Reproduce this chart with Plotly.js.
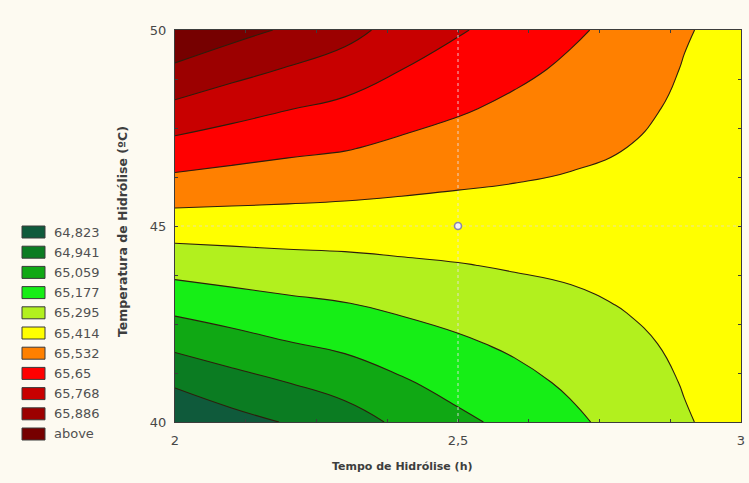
<!DOCTYPE html>
<html>
<head>
<meta charset="utf-8">
<script src="https://cdn.plot.ly/plotly-3.0.1.min.js"></script>
<style>
  html, body { margin: 0; padding: 0; background: #fdfaf1; }
  #grafico { width: 749px; height: 483px; }
</style>
</head>
<body>
<div id="grafico"></div>
<script>
// Tempo de hidrólise (h) — eixo x
const tempo = [2.0, 2.1, 2.2, 2.3, 2.4, 2.5, 2.6, 2.7, 2.8, 2.9, 3.0];
// Temperatura de hidrólise (ºC) — eixo y
const temperatura = [40, 41, 42, 43, 44, 45, 46, 47, 48, 49, 50];

// Resposta estimada; uma linha por temperatura, uma coluna por tempo
const resposta = [
  [64.711, 64.782, 64.831, 64.887, 64.965, 65.035, 65.089, 65.155, 65.220, 65.287, 65.335],
  [64.840, 64.896, 64.941, 64.987, 65.046, 65.098, 65.143, 65.195, 65.247, 65.301, 65.339],
  [64.971, 65.014, 65.054, 65.084, 65.123, 65.160, 65.197, 65.235, 65.275, 65.314, 65.343],
  [65.097, 65.128, 65.153, 65.172, 65.200, 65.225, 65.252, 65.275, 65.302, 65.328, 65.347],
  [65.224, 65.240, 65.254, 65.264, 65.279, 65.291, 65.305, 65.316, 65.330, 65.341, 65.351],
  [65.352, 65.354, 65.356, 65.355, 65.355, 65.355, 65.357, 65.357, 65.357, 65.355, 65.355],
  [65.486, 65.471, 65.458, 65.447, 65.432, 65.419, 65.409, 65.398, 65.385, 65.368, 65.359],
  [65.611, 65.582, 65.558, 65.540, 65.509, 65.483, 65.458, 65.437, 65.413, 65.381, 65.363],
  [65.740, 65.693, 65.654, 65.623, 65.581, 65.545, 65.508, 65.474, 65.440, 65.395, 65.367],
  [65.866, 65.809, 65.760, 65.714, 65.651, 65.603, 65.558, 65.512, 65.468, 65.408, 65.371],
  [65.990, 65.926, 65.871, 65.808, 65.723, 65.660, 65.608, 65.549, 65.496, 65.422, 65.375]
];

// Níveis das curvas de contorno e rótulos da legenda
const niveis = [64.823, 64.941, 65.059, 65.177, 65.295, 65.414, 65.532, 65.65, 65.768, 65.886];
const rotulosLegenda = ['64,823', '64,941', '65,059', '65,177', '65,295', '65,414',
                        '65,532', '65,65', '65,768', '65,886', 'above'];
// Cor de cada faixa, da mais baixa à mais alta
const coresFaixas = ['#0f5a3b', '#0b7c22', '#10a814', '#16ee16', '#b2f01e', '#ffff00',
                     '#ff8000', '#ff0000', '#c80000', '#9c0000', '#760000'];

// Ponto central do planejamento
const pontoX = [2.5];
const pontoY = [45];

const ticksTempo = [2, 2.5, 3];
const ticksTemperatura = [40, 45, 50];

// ---- geometria da figura (pixels) ----
const W = 749, H = 483;
const M = { l: 175, r: 8, t: 30, b: 61 };
const plotW = W - M.l - M.r, plotH = H - M.t - M.b;
const px2paperX = px => (px - M.l) / plotW;
const py2paperY = py => (H - M.b - py) / plotH;

const xRange = [ticksTempo[0], ticksTempo[ticksTempo.length - 1]];
const yRange = [ticksTemperatura[0], ticksTemperatura[ticksTemperatura.length - 1]];

const passo = (niveis[niveis.length - 1] - niveis[0]) / (niveis.length - 1);

const contorno = {
  type: 'contour',
  x: tempo,
  y: temperatura,
  z: resposta,
  autocontour: false,
  contours: {
    start: niveis[0],
    end: niveis[niveis.length - 1],
    size: passo,
    coloring: 'fill',
    showlines: true
  },
  colorscale: coresFaixas.map((c, i) => [i / (coresFaixas.length - 1), c]),
  showscale: false,
  line: { color: '#2e1e0c', width: 1.1, smoothing: 1.3 },
  hoverinfo: 'skip'
};

// Linhas pontilhadas que cruzam o ponto central
const guiaV = {
  type: 'scatter', mode: 'lines',
  x: [pontoX[0], pontoX[0]], y: yRange,
  line: { color: 'rgba(235,225,235,0.85)', width: 1, dash: 'dot' },
  hoverinfo: 'skip', showlegend: false
};
const guiaH = {
  type: 'scatter', mode: 'lines',
  x: xRange, y: [pontoY[0], pontoY[0]],
  line: { color: 'rgba(225,215,225,0.7)', width: 1, dash: 'dot' },
  hoverinfo: 'skip', showlegend: false
};
const ponto = {
  type: 'scatter', mode: 'markers',
  x: pontoX, y: pontoY,
  marker: { size: 7, color: '#f4f2f8', line: { color: '#8a86a8', width: 1.6 } },
  hoverinfo: 'skip', showlegend: false
};

// Legenda manual: caixas coloridas e rótulos dos níveis
const shapes = [];
const annotations = [];
const leg = { x0: 22, x1: 45, yTop: 232, dy: 20.2, h: 12, txtX: 52 };
coresFaixas.forEach((cor, i) => {
  const cy = leg.yTop + i * leg.dy;
  shapes.push({
    type: 'rect', xref: 'paper', yref: 'paper',
    x0: px2paperX(leg.x0), x1: px2paperX(leg.x1),
    y0: py2paperY(cy + leg.h / 2), y1: py2paperY(cy - leg.h / 2),
    fillcolor: cor, line: { color: '#3a3a3a', width: 1 }
  });
  annotations.push({
    xref: 'paper', yref: 'paper',
    x: px2paperX(leg.txtX), y: py2paperY(cy),
    xanchor: 'left', yanchor: 'middle', showarrow: false,
    text: rotulosLegenda[i],
    font: { family: 'DejaVu Sans', size: 13, color: '#505050' }
  });
});

annotations.push({
  xref: 'paper', yref: 'paper',
  x: px2paperX(402), y: py2paperY(466),
  xanchor: 'center', yanchor: 'middle', showarrow: false,
  text: 'Tempo de Hidrólise (h)',
  font: { family: 'DejaVu Sans', size: 11, color: '#3e3e3e', weight: 'bold' }
});
annotations.push({
  xref: 'paper', yref: 'paper',
  x: px2paperX(122), y: py2paperY(232),
  xanchor: 'center', yanchor: 'middle', showarrow: false, textangle: -90,
  text: 'Temperatura de Hidrólise (ºC)',
  font: { family: 'DejaVu Sans', size: 12.5, color: '#3e3e3e', weight: 'bold' }
});

const fonteTicks = { family: 'DejaVu Sans', size: 13, color: '#474747' };
const eixoBase = {
  showgrid: false, zeroline: false,
  showline: true, linecolor: '#3c3c3c', linewidth: 1, mirror: 'allticks',
  ticks: 'inside', ticklen: 3, tickcolor: '#3c3c3c',
  tickfont: fonteTicks, layer: 'above traces', fixedrange: true
};

const layout = {
  width: W, height: H,
  margin: M,
  paper_bgcolor: '#fdfaf1',
  plot_bgcolor: '#fdfaf1',
  separators: ',.',
  showlegend: false,
  xaxis: Object.assign({}, eixoBase, {
    range: xRange, tickmode: 'array', tickvals: ticksTempo,
    ticklabelstandoff: 6,
    minor: { dtick: 0.125, ticks: 'inside', ticklen: 3, tickcolor: '#3c3c3c' }
  }),
  yaxis: Object.assign({}, eixoBase, {
    range: yRange, tickmode: 'array', tickvals: ticksTemperatura,
    ticklabelstandoff: 5,
    minor: { dtick: 1.25, ticks: 'inside', ticklen: 3, tickcolor: '#3c3c3c' }
  }),
  shapes: shapes,
  annotations: annotations
};

Plotly.newPlot('grafico', [contorno, guiaV, guiaH, ponto], layout,
  { displayModeBar: false, staticPlot: true });
</script>
</body>
</html>
